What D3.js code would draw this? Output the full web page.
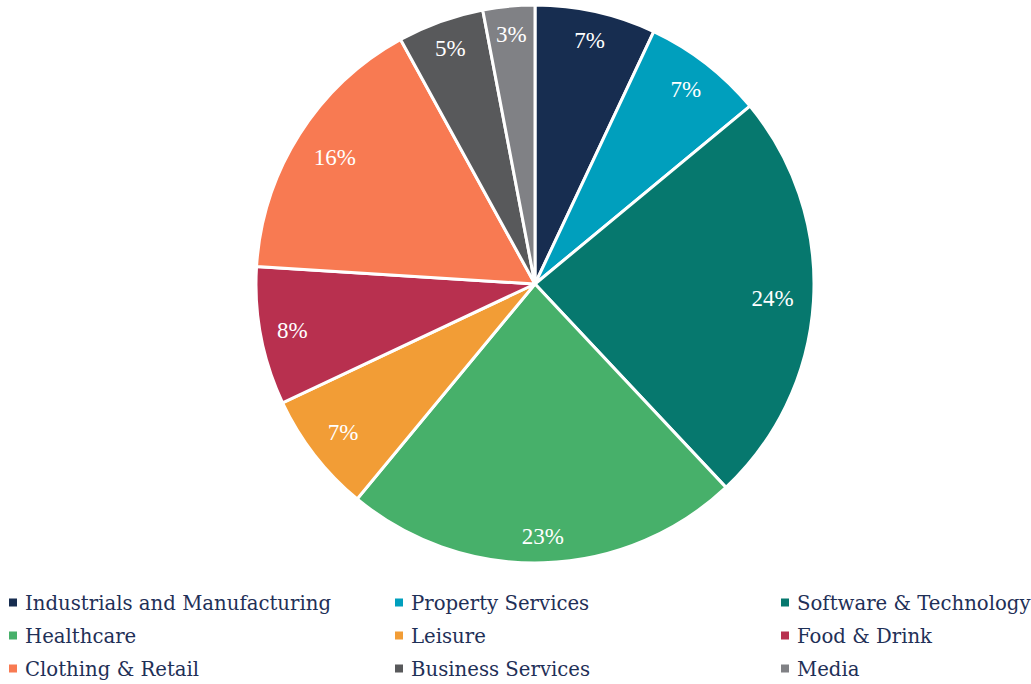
<!DOCTYPE html>
<html>
<head>
<meta charset="utf-8">
<script src="https://cdn.jsdelivr.net/npm/d3@7"></script>
<style>
  html, body { margin: 0; padding: 0; background: #ffffff; }
  svg { display: block; }
  .pct { font-family: "Liberation Serif", "Times New Roman", Times, serif; }
</style>
</head>
<body>
<svg id="chart" width="1031" height="684"></svg>
<script>
// Sector breakdown (percent of portfolio)
const categories = [
  "Industrials and Manufacturing", "Property Services", "Software & Technology",
  "Healthcare", "Leisure", "Food & Drink",
  "Clothing & Retail", "Business Services", "Media"
];
const shares = [7, 7, 24, 23, 7, 8, 16, 5, 3];
const colours = [
  "#172d50", "#009fbd", "#06786e",
  "#47b06a", "#f29d36", "#b8304f",
  "#f87a52", "#58595b", "#808185"
];

// Layout: distance of each percentage label from the pie centre
const labelRadius = [250, 246, 238, 253, 243, 247, 237, 250, 251];

const svg = d3.select("#chart");
const cx = 535, cy = 284, R = 279;

const data = categories.map((c, i) => ({ name: c, value: shares[i], colour: colours[i] }));

const pie = d3.pie().value(d => d.value).sort(null);
const arc = d3.arc().innerRadius(0).outerRadius(R);

const g = svg.append("g").attr("transform", `translate(${cx},${cy})`);
const arcs = pie(data);

g.selectAll("path.slice")
  .data(arcs)
  .join("path")
  .attr("class", "slice")
  .attr("d", arc)
  .attr("fill", d => d.data.colour)
  .attr("stroke", "#ffffff")
  .attr("stroke-width", 3)
  .attr("stroke-linejoin", "miter");

g.selectAll("text.pct")
  .data(arcs)
  .join("text")
  .attr("class", "pct")
  .attr("transform", (d, i) => {
    const r = labelRadius[i];
    return `translate(${d3.arc().innerRadius(r).outerRadius(r).centroid(d)})`;
  })
  .attr("text-anchor", "middle")
  .attr("dominant-baseline", "central")
  .attr("font-size", 23)
  .attr("fill", "#ffffff")
  .text(d => d3.format(".0f")(d.data.value) + "%");

// Legend: three columns, three rows
const colX = [13, 399, 785];
const rowY = [603, 636, 669];
const legend = svg.append("g");
const items = legend.selectAll("g.item")
  .data(data)
  .join("g")
  .attr("class", "item")
  .attr("transform", (d, i) => `translate(${colX[i % 3]},${rowY[Math.floor(i / 3)]})`);

items.append("rect")
  .attr("x", -4).attr("y", -4.5)
  .attr("width", 8).attr("height", 8)
  .attr("fill", d => d.colour);

items.append("text")
  .attr("x", 12)
  .attr("y", 7)
  .attr("font-family", "'DejaVu Serif', serif")
  .attr("font-size", 19.7)
  .attr("fill", "#1f3057")
  .text(d => d.name);
</script>
</body>
</html>
